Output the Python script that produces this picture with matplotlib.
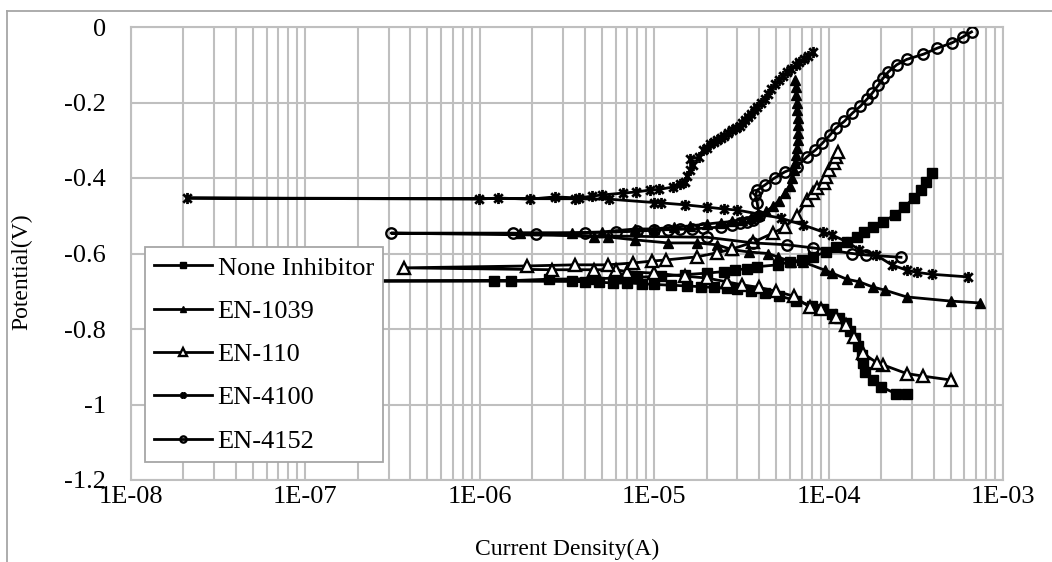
import matplotlib
matplotlib.use("Agg")
import matplotlib.pyplot as plt
from matplotlib.path import Path
from matplotlib.lines import Line2D

# ---------------- data ----------------
none_x = [2.8e-4, 2.45e-4, 2.0e-4, 1.8e-4, 1.62e-4, 1.58e-4, 1.55e-4, 1.48e-4, 1.42e-4, 1.32e-4,
          1.25e-4, 1.15e-4, 1.05e-4, 9.3e-5, 8.0e-5, 6.5e-5, 5.2e-5, 4.3e-5, 3.6e-5, 3.0e-5,
          2.6e-5, 2.2e-5, 1.85e-5, 1.55e-5, 1.25e-5, 1.0e-5, 8.5e-6, 7.0e-6, 5.8e-6, 4.8e-6,
          4.0e-6, 3.4e-6, 1.2e-6, 8.0e-8,
          1.5e-6, 2.5e-6, 4.5e-6, 6.0e-6, 8.0e-6, 1.1e-5, 1.5e-5, 2.0e-5, 2.5e-5, 2.9e-5,
          3.4e-5, 3.9e-5, 5.1e-5, 6.0e-5, 7.0e-5, 8.1e-5, 9.6e-5, 1.1e-4, 1.27e-4, 1.45e-4,
          1.6e-4, 1.8e-4, 2.05e-4, 2.4e-4, 2.7e-4, 3.1e-4, 3.4e-4, 3.6e-4, 3.9e-4]
none_y = [-0.972, -0.972, -0.953, -0.935, -0.915, -0.89, -0.87, -0.845, -0.825, -0.805,
          -0.785, -0.77, -0.76, -0.748, -0.738, -0.725, -0.712, -0.705, -0.700, -0.695,
          -0.692, -0.690, -0.688, -0.686, -0.684, -0.682, -0.680, -0.678, -0.678, -0.676,
          -0.675, -0.674, -0.673, -0.673,
          -0.672, -0.668, -0.667, -0.665, -0.663, -0.660, -0.656, -0.652, -0.648, -0.644,
          -0.640, -0.635, -0.630, -0.622, -0.617, -0.609, -0.596, -0.582, -0.569, -0.556,
          -0.543, -0.530, -0.516, -0.498, -0.477, -0.453, -0.432, -0.410, -0.387]

en1039_x = [7.4e-4, 5.0e-4, 2.8e-4, 2.1e-4, 1.8e-4, 1.5e-4, 1.27e-4, 1.05e-4, 9.5e-5, 7.1e-5,
            6.1e-5, 5.1e-5, 4.5e-5, 3.5e-5, 2.8e-5, 2.3e-5, 1.75e-5, 1.2e-5, 7.8e-6, 5.4e-6,
            4.5e-6, 1.7e-6,
            3.4e-6, 5.0e-6, 7.8e-6, 1.0e-5, 1.3e-5, 1.6e-5, 2.0e-5, 2.4e-5, 2.8e-5, 3.2e-5,
            3.6e-5, 4.0e-5, 4.4e-5, 4.8e-5, 5.2e-5, 5.6e-5, 6.0e-5, 6.2e-5, 6.3e-5, 6.4e-5,
            6.5e-5, 6.6e-5, 6.7e-5, 6.7e-5, 6.7e-5, 6.7e-5, 6.6e-5, 6.6e-5, 6.5e-5, 6.5e-5,
            6.4e-5]
en1039_y = [-0.731, -0.726, -0.715, -0.697, -0.689, -0.675, -0.668, -0.652, -0.644, -0.622,
            -0.622, -0.609, -0.600, -0.596, -0.590, -0.577, -0.572, -0.572, -0.564, -0.556,
            -0.556, -0.545,
            -0.545, -0.543, -0.535, -0.535, -0.530, -0.527, -0.522, -0.518, -0.515, -0.510,
            -0.505, -0.498, -0.488, -0.475, -0.460, -0.440, -0.420, -0.400, -0.380, -0.360,
            -0.340, -0.320, -0.300, -0.280, -0.260, -0.240, -0.220, -0.200, -0.180, -0.160,
            -0.140]

en110_x = [5.0e-4, 3.5e-4, 2.8e-4, 2.05e-4, 1.9e-4, 1.57e-4, 1.4e-4, 1.25e-4, 1.1e-4, 9.0e-5,
           7.8e-5, 6.3e-5, 5.0e-5, 4.0e-5, 3.2e-5, 2.6e-5, 2.0e-5, 1.5e-5, 1.0e-5, 7.0e-6,
           6.0e-6, 4.5e-6, 2.6e-6, 3.7e-7,
           1.86e-6, 3.5e-6, 5.4e-6, 7.6e-6, 9.7e-6, 1.17e-5, 1.75e-5, 2.3e-5, 2.8e-5, 3.7e-5,
           4.8e-5, 5.6e-5, 6.6e-5, 7.5e-5, 8.1e-5, 8.6e-5, 9.4e-5, 9.6e-5, 1.0e-4, 1.07e-4,
           1.1e-4, 1.13e-4]
en110_y = [-0.935, -0.925, -0.918, -0.895, -0.890, -0.864, -0.820, -0.790, -0.768, -0.748,
           -0.742, -0.713, -0.700, -0.690, -0.683, -0.675, -0.665, -0.660, -0.652, -0.648,
           -0.643, -0.643, -0.643, -0.638,
           -0.633, -0.630, -0.630, -0.625, -0.620, -0.617, -0.609, -0.598, -0.588, -0.570,
           -0.546, -0.530, -0.500, -0.458, -0.440, -0.427, -0.413, -0.397, -0.379, -0.360,
           -0.344, -0.331]

en4100_x = [6.3e-4, 3.9e-4, 3.2e-4, 2.8e-4, 2.3e-4, 1.87e-4, 1.5e-4, 1.27e-4, 1.05e-4, 9.3e-5,
            7.1e-5, 5.3e-5, 3.0e-5, 2.5e-5, 2.0e-5, 1.5e-5, 1.1e-5, 1.0e-5, 5.5e-6, 3.5e-6,
            2.1e-8,
            9.9e-7, 1.27e-6, 1.94e-6, 2.7e-6, 3.7e-6, 4.4e-6, 5.0e-6, 6.6e-6, 7.9e-6, 9.4e-6,
            1.07e-5, 1.28e-5, 1.4e-5, 1.5e-5, 1.55e-5, 1.6e-5, 1.66e-5, 1.6e-5, 1.8e-5, 1.9e-5,
            2.0e-5, 2.1e-5, 2.2e-5, 2.3e-5, 2.4e-5, 2.5e-5, 2.65e-5, 2.8e-5, 2.95e-5, 3.1e-5,
            3.2e-5, 3.3e-5, 3.45e-5, 3.6e-5, 3.75e-5, 3.9e-5, 4.1e-5, 4.3e-5, 4.5e-5, 4.7e-5,
            4.95e-5, 5.2e-5, 5.5e-5, 5.8e-5, 6.1e-5, 6.5e-5, 6.8e-5, 7.2e-5, 7.6e-5, 8.1e-5]
en4100_y = [-0.662, -0.655, -0.650, -0.644, -0.630, -0.604, -0.590, -0.569, -0.551, -0.543,
            -0.524, -0.506, -0.485, -0.482, -0.477, -0.471, -0.466, -0.465, -0.456, -0.455,
            -0.453,
            -0.456, -0.453, -0.456, -0.450, -0.453, -0.448, -0.445, -0.440, -0.437, -0.432,
            -0.430, -0.424, -0.416, -0.410, -0.395, -0.380, -0.365, -0.350, -0.345, -0.326,
            -0.320, -0.310, -0.305, -0.300, -0.295, -0.290, -0.282, -0.273, -0.268, -0.262,
            -0.255, -0.246, -0.238, -0.230, -0.221, -0.212, -0.200, -0.190, -0.178, -0.165,
            -0.152, -0.140, -0.130, -0.120, -0.110, -0.100, -0.093, -0.085, -0.076, -0.066]

en4152_x = [2.6e-4, 1.64e-4, 1.37e-4, 8.1e-5, 5.8e-5, 3.7e-5, 2.0e-5, 3.1e-7,
            1.55e-6, 2.1e-6, 4.0e-6, 6.0e-6, 8.0e-6, 1.0e-5, 1.2e-5, 1.4e-5, 1.65e-5, 1.9e-5,
            2.4e-5, 2.8e-5, 3.1e-5, 3.4e-5, 3.7e-5, 4.0e-5, 3.9e-5, 3.8e-5, 3.9e-5, 4.3e-5,
            4.9e-5, 5.6e-5, 6.6e-5, 7.5e-5, 8.4e-5, 9.2e-5, 1.02e-4, 1.1e-4, 1.23e-4, 1.37e-4,
            1.52e-4, 1.67e-4, 1.78e-4, 1.93e-4, 2.05e-4, 2.2e-4, 2.46e-4, 2.8e-4, 3.5e-4, 4.2e-4,
            5.1e-4, 5.9e-4, 6.6e-4]
en4152_y = [-0.610, -0.604, -0.600, -0.585, -0.577, -0.572, -0.557, -0.546,
            -0.546, -0.548, -0.545, -0.543, -0.541, -0.538, -0.537, -0.536, -0.535, -0.533,
            -0.530, -0.525, -0.520, -0.516, -0.511, -0.500, -0.467, -0.445, -0.432, -0.419,
            -0.400, -0.384, -0.370, -0.344, -0.326, -0.308, -0.286, -0.268, -0.250, -0.228,
            -0.210, -0.190, -0.175, -0.154, -0.136, -0.119, -0.100, -0.086, -0.072, -0.056,
            -0.042, -0.026, -0.013]

labels = ["None Inhibitor", "EN-1039", "EN-110", "EN-4100", "EN-4152"]
x_ticks = [1e-8, 1e-7, 1e-6, 1e-5, 1e-4, 1e-3]
x_ticklabels = ["1E-08", "1E-07", "1E-06", "1E-05", "1E-04", "1E-03"]
y_ticks = [-1.2, -1.0, -0.8, -0.6, -0.4, -0.2, 0.0]
y_ticklabels = ["-1.2", "-1", "-0.8", "-0.6", "-0.4", "-0.2", "0"]

# ---------------- style ----------------
plt.rcParams['font.family'] = ['Liberation Serif', 'DejaVu Serif']
W, H = 1052, 562
fig = plt.figure(figsize=(W / 100, H / 100), dpi=100)
L, R, T, B = 131, 1003, 27, 480
ax = fig.add_axes([L / W, 1 - B / H, (R - L) / W, (B - T) / H])

star_path = Path([(-1, -1), (1, 1), (-1, 1), (1, -1), (0, -1.3), (0, 1.3)],
                 [Path.MOVETO, Path.LINETO, Path.MOVETO, Path.LINETO, Path.MOVETO, Path.LINETO])

series = [
    (none_x, none_y, dict(marker='s', markersize=6.5, markerfacecolor='black', markeredgecolor='black')),
    (en1039_x, en1039_y, dict(marker='^', markersize=7, markerfacecolor='black', markeredgecolor='black')),
    (en110_x, en110_y, dict(marker='^', markersize=8.5, markerfacecolor='white', markeredgecolor='black', markeredgewidth=1.7)),
    (en4100_x, en4100_y, dict(marker=star_path, markersize=8, markeredgecolor='black', markeredgewidth=2.0)),
    (en4152_x, en4152_y, dict(marker='o', markersize=7.5, markerfacecolor='none', markeredgecolor='black', markeredgewidth=1.7)),
]
for (xs, ys, st), lab in zip(series, labels):
    ax.plot(xs, ys, color='black', linewidth=2.0, label=lab, zorder=3, **st)

ax.set_xscale('log')
ax.set_xlim(1e-8, 1e-3)
ax.set_ylim(-1.2, 0)
ax.set_xticks(x_ticks)
ax.set_xticklabels(x_ticklabels)
ax.set_yticks(y_ticks)
ax.set_yticklabels(y_ticklabels)
ax.tick_params(axis='both', which='both', length=0, labelsize=19)
ax.tick_params(axis='x', pad=4)
ax.tick_params(axis='y', pad=18)
ax.grid(True, which='major', color='#BFBFBF', linewidth=1.5, zorder=0)
ax.grid(True, which='minor', axis='x', color='#BFBFBF', linewidth=1.5, zorder=0)
ax.set_axisbelow(True)
for s in ax.spines.values():
    s.set_color('#BFBFBF')
    s.set_linewidth(1.5)

fig.text(22 / W, 1 - 272 / H, "Potential(V)", rotation=90, ha='center', va='center', fontsize=17)
fig.text(567 / W, 1 - 549 / H, "Current Density(A)", ha='center', va='center', fontsize=17)

# outer chart frame (top and left edges visible)
fig.add_artist(Line2D([7 / W, 7 / W], [0, 1 - 11 / H], transform=fig.transFigure, color='#A6A6A6', linewidth=1.3))
fig.add_artist(Line2D([7 / W, 1], [1 - 11 / H, 1 - 11 / H], transform=fig.transFigure, color='#A6A6A6', linewidth=1.3))

leg = ax.legend(loc='upper left', bbox_to_anchor=(145 / W, 1 - 247 / H), bbox_transform=fig.transFigure,
                fontsize=19, frameon=True, fancybox=False, edgecolor='#A6A6A6', framealpha=1,
                markerscale=0.6, handlelength=2.2, handletextpad=0.2, labelspacing=0.75,
                borderpad=0.35, borderaxespad=0)
leg.get_frame().set_linewidth(1.3)
leg.set_zorder(5)

fig.savefig("out.png", dpi=100)
